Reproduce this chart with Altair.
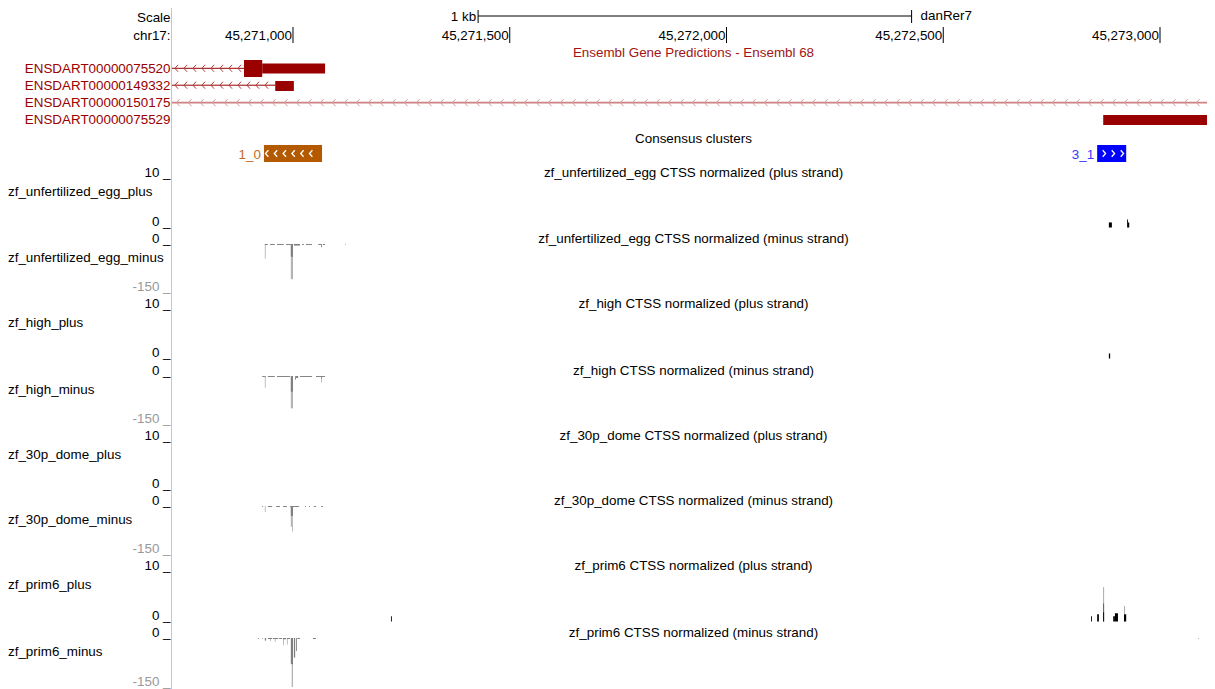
import altair as alt
import pandas as pd

# ---------------- data ----------------
VIEW_START = 45270720.9
VIEW_END = 45273108.4
PX_PER_BP = 0.4335  # only for decorative chevron spacing

RULER_TICKS = [45271000, 45271500, 45272000, 45272500, 45273000]
RULER_LABELS = ["45,271,000", "45,271,500", "45,272,000", "45,272,500", "45,273,000"]
SCALE_BAR = [45271427, 45272427]
SCALE_BAR_LABEL = "1 kb"
ASSEMBLY = "danRer7"
CHROM = "chr17:"

GENE_TRACK_TITLE = "Ensembl Gene Predictions - Ensembl 68"
GENE_NAMES = ["ENSDART00000075520", "ENSDART00000149332", "ENSDART00000150175", "ENSDART00000075529"]
INTRON_START = [45270600, 45270600, 45270600, None]
INTRON_END = [45270887, 45270959, 45273300, None]
EXON_ROW = [0, 0, 1, 3]
EXON_START = [45270887, 45270929, 45270959, 45272869]
EXON_END = [45270929, 45271074, 45271002, 45273300]
EXON_THICK = [True, False, False, False]

CLUSTER_TITLE = "Consensus clusters"
CLUSTER_NAMES = ["1_0", "3_1"]
CLUSTER_START = [45270933, 45272855]
CLUSTER_END = [45271067, 45272922]
CLUSTER_STRAND = ["-", "+"]

SAMPLES = ["zf_unfertilized_egg", "zf_high", "zf_30p_dome", "zf_prim6"]
PLUS_DOMAIN = [0, 10]
MINUS_DOMAIN = [-150, 0]

# bars: (start, end, value)
UE_PLUS_MEAN = [(45272882, 45272889, 1.0), (45272924, 45272926, 1.6), (45272926, 45272929, 1.0)]
UE_MINUS_MEAN = [(45270935, 45270942, -3), (45270947, 45270958, -3), (45270963, 45270979, -3),
                 (45270984, 45270995, -3), (45270995, 45271000, -40), (45271002, 45271016, -5),
                 (45271021, 45271025, -3), (45271030, 45271044, -3), (45271058, 45271065, -3),
                 (45271065, 45271067, -10), (45271069, 45271074, -3), (45271120, 45271122, -2)]
UE_MINUS_MAX = [(45270935, 45270937, -45), (45270995, 45271000, -110)]

HIGH_PLUS_MEAN = [(45272882, 45272885, 1.0)]
HIGH_MINUS_MEAN = [(45270929, 45270935, -3), (45270935, 45270937, -4), (45270942, 45270958, -3),
                   (45270963, 45270993, -3), (45270995, 45271000, -49), (45271005, 45271007, -12),
                   (45271007, 45271012, -6), (45271016, 45271044, -3), (45271053, 45271065, -3),
                   (45271065, 45271067, -8), (45271067, 45271074, -3)]
HIGH_MINUS_MAX = [(45270935, 45270937, -37), (45270995, 45271000, -101), (45271065, 45271067, -20)]

DOME_MINUS_MEAN = [(45270929, 45270931, -3), (45270942, 45270952, -3), (45270961, 45270970, -3),
                   (45270977, 45270986, -3), (45270993, 45270995, -3), (45270995, 45271000, -31),
                   (45271000, 45271014, -3), (45271028, 45271030, -3), (45271037, 45271039, -3),
                   (45271048, 45271053, -3), (45271065, 45271069, -3)]
DOME_MINUS_MAX = [(45270935, 45270937, -19), (45270995, 45270998, -65), (45270998, 45271000, -80)]

PRIM6_PLUS_MEAN = [(45271226, 45271228, 1.0), (45272841, 45272843, 1.0), (45272855, 45272859, 1.4),
                   (45272869, 45272871, 1.8), (45272892, 45272896, 1.0), (45272896, 45272903, 1.6),
                   (45272917, 45272922, 1.4)]
PRIM6_PLUS_SD = [(45272869, 45272871, 3.5)]
PRIM6_PLUS_MAX = [(45272869, 45272871, 6.7), (45272917, 45272919, 3.0)]
PRIM6_MINUS_MEAN = [(45270919, 45270921, -3), (45270929, 45270931, -2), (45270935, 45270938, -8),
                    (45270942, 45270952, -3), (45270954, 45270966, -3), (45270968, 45270975, -3),
                    (45270977, 45270984, -4), (45270986, 45270993, -3),
                    (45270995, 45271000, -80), (45271002, 45271005, -60),
                    (45271007, 45271009, -40), (45271010, 45271016, -3), (45271046, 45271053, -3),
                    (45273088, 45273090, -2)]
PRIM6_MINUS_MAX = [(45270947, 45270949, -10), (45270958, 45270960, -12), (45270977, 45270979, -22),
                   (45270986, 45270988, -20), (45270997, 45271000, -150)]

TRACK_BARS = {
    ("zf_unfertilized_egg", "plus"): [("pmean", UE_PLUS_MEAN)],
    ("zf_unfertilized_egg", "minus"): [("mmax", UE_MINUS_MAX), ("mmean", UE_MINUS_MEAN)],
    ("zf_high", "plus"): [("pmean", HIGH_PLUS_MEAN)],
    ("zf_high", "minus"): [("mmax", HIGH_MINUS_MAX), ("mmean", HIGH_MINUS_MEAN)],
    ("zf_30p_dome", "plus"): [],
    ("zf_30p_dome", "minus"): [("mmax", DOME_MINUS_MAX), ("mmean", DOME_MINUS_MEAN)],
    ("zf_prim6", "plus"): [("pmax", PRIM6_PLUS_MAX), ("psd", PRIM6_PLUS_SD), ("pmean", PRIM6_PLUS_MEAN)],
    ("zf_prim6", "minus"): [("mmax", PRIM6_MINUS_MAX), ("mmean", PRIM6_MINUS_MEAN)],
}

# ---------------- layout / style ----------------
FONT = "Liberation Sans"
FS = 13.4
OFF = 8                      # page margin
TXT = 1                      # text baseline nudge
W, H = 1035, 681
CENTER_X = 521.5
GENE_RED = "#990000"

# page-y rows of each track (reference)
T10 = [172, 303, 435, 565]
Z0 = [221, 352, 483, 615]
M0 = [238, 370, 500, 632]
M150 = [286, 418, 548, 681]

xs = alt.Scale(domain=[VIEW_START, VIEW_END], nice=False, zero=False)


def X(f):
    return alt.X(f, type="quantitative", scale=xs, axis=None)


def label(text, x, y, align="left", color="#000000", size=FS):
    return alt.Chart(pd.DataFrame({"t": [text]})).mark_text(
        align=align, baseline="middle", font=FONT, fontSize=size, color=color
    ).encode(text="t:N", x=alt.value(x), y=alt.value(y - OFF + TXT))


CHEV_L = "M0.45,-1L-0.45,0L0.45,1"
CHEV_R = "M-0.45,-1L0.45,0L-0.45,1"

L = []

# divider line
L.append(alt.Chart(pd.DataFrame({"a": [0]})).mark_rule(color="#efb4b4", strokeWidth=1).encode(
    x=alt.value(-0.5), y=alt.value(0), y2=alt.value(H)))

# scale bar
L.append(label("Scale", -1.5, 17, align="right"))
sb = pd.DataFrame({"s": [SCALE_BAR[0]], "e": [SCALE_BAR[1]]})
L.append(alt.Chart(sb).mark_rule(color="#000", strokeWidth=1).encode(x=X("s"), x2="e", y=alt.value(16 - OFF)))
sbe = pd.DataFrame({"pos": SCALE_BAR})
L.append(alt.Chart(sbe).mark_rule(color="#000", strokeWidth=1).encode(
    x=X("pos"), y=alt.value(10 - OFF), y2=alt.value(23 - OFF)))
L.append(alt.Chart(pd.DataFrame({"pos": [SCALE_BAR[0]], "t": [SCALE_BAR_LABEL]})).mark_text(
    align="right", baseline="middle", dx=-2, font=FONT, fontSize=FS, color="#000").encode(
    x=X("pos"), y=alt.value(16 - OFF + TXT), text="t:N"))
L.append(alt.Chart(pd.DataFrame({"pos": [SCALE_BAR[1]], "t": [ASSEMBLY]})).mark_text(
    align="left", baseline="middle", dx=9, font=FONT, fontSize=FS, color="#000").encode(
    x=X("pos"), y=alt.value(15 - OFF + TXT), text="t:N"))

# ruler
L.append(label(CHROM, -1.5, 35, align="right"))
rd = pd.DataFrame({"pos": RULER_TICKS, "lab": RULER_LABELS})
L.append(alt.Chart(rd).mark_rule(color="#000", strokeWidth=1).encode(
    x=X("pos"), y=alt.value(27 - OFF), y2=alt.value(43 - OFF)))
L.append(alt.Chart(rd).mark_text(align="right", baseline="middle", dx=-1, font=FONT, fontSize=FS,
                                 color="#000").encode(x=X("pos"), y=alt.value(35 - OFF + TXT), text="lab:N"))

# gene track
L.append(label(GENE_TRACK_TITLE, CENTER_X, 52, align="center", color="#a01414"))
ROW_LINE_Y = [68.3, 85.2, 102.7, 120]
ROW_CENTER = [68.5, 86, 102.5, 120]
ROW_LABEL_Y = [68, 85, 102, 119]
CHEV_STEP = [9, 9, 12, 9]
LINE_COLOR = [GENE_RED, GENE_RED, "#cf8080", GENE_RED]
CHEV_COLOR = ["#b53a3a", "#b53a3a", "#d89a9a", "#b53a3a"]
for i, name in enumerate(GENE_NAMES):
    L.append(label(name, -1.5, ROW_LABEL_Y[i], align="right", color=GENE_RED))
    if INTRON_START[i] is not None:
        ldf = pd.DataFrame({"s": [INTRON_START[i]], "e": [INTRON_END[i]]})
        L.append(alt.Chart(ldf).mark_rule(color=LINE_COLOR[i], strokeWidth=1.8 if i == 2 else 1,
                                          clip=True).encode(
            x=X("s"), x2="e", y=alt.value(ROW_LINE_Y[i] - OFF)))
        a = max(INTRON_START[i], VIEW_START)
        b = min(INTRON_END[i], VIEW_END)
        step = CHEV_STEP[i] / PX_PER_BP
        n = int((b - a) / step)
        cdf = pd.DataFrame({"pos": [a + step * (k + 0.5) for k in range(n)]})
        L.append(alt.Chart(cdf).mark_point(shape=CHEV_L, filled=False, size=49, strokeWidth=1,
                                           color=CHEV_COLOR[i], opacity=1, clip=True).encode(
            x=X("pos"), y=alt.value(ROW_LINE_Y[i] - OFF)))
for j in range(len(EXON_START)):
    r = EXON_ROW[j]
    hh = 8.5 if EXON_THICK[j] else 5
    edf = pd.DataFrame({"s": [EXON_START[j]], "e": [EXON_END[j]]})
    L.append(alt.Chart(edf).mark_rect(color=GENE_RED, clip=True).encode(
        x=X("s"), x2="e", y=alt.value(ROW_CENTER[r] - hh - OFF), y2=alt.value(ROW_CENTER[r] + hh - OFF)))

# consensus clusters
L.append(label(CLUSTER_TITLE, CENTER_X, 138, align="center"))
CL_COLOR = ["#b35900", "#0000ff"]
CL_TEXT = ["#c26a1f", "#3a3aff"]
CL_CHEV_N = [6, 3]
CL_CHEV_STEP = [8.8, 9]
CL_CHEV_OFF = [3, 7]
for i, nm in enumerate(CLUSTER_NAMES):
    cdf = pd.DataFrame({"s": [CLUSTER_START[i]], "e": [CLUSTER_END[i]], "t": [nm]})
    L.append(alt.Chart(cdf).mark_rect(color=CL_COLOR[i], clip=True).encode(
        x=X("s"), x2="e", y=alt.value(145 - OFF), y2=alt.value(162 - OFF)))
    L.append(alt.Chart(cdf).mark_text(align="right", baseline="middle", dx=-3, font=FONT,
                                      fontSize=FS, color=CL_TEXT[i]).encode(
        x=X("s"), y=alt.value(154 - OFF + TXT), text="t:N"))
    pos = [CLUSTER_START[i] + (CL_CHEV_OFF[i] + CL_CHEV_STEP[i] * k) / PX_PER_BP for k in range(CL_CHEV_N[i])]
    L.append(alt.Chart(pd.DataFrame({"pos": pos})).mark_point(
        shape=CHEV_L if CLUSTER_STRAND[i] == "-" else CHEV_R, filled=False, size=42,
        strokeWidth=1.3, color="#ffffff", opacity=1).encode(x=X("pos"), y=alt.value(153.5 - OFF)))

# signal tracks
KIND_DOMAIN = ["pmax", "psd", "pmean", "mmax", "mmean"]
KIND_RANGE = ["#a0a0a0", "#555555", "#000000", "#b4b4b4", "#808080"]
kind_scale = alt.Scale(domain=KIND_DOMAIN, range=KIND_RANGE)


def track(bars, domain, top, bottom):
    rows = []
    for kind, lst in bars:
        for s, e, v in lst:
            rows.append({"start": s, "end": e, "value": v, "kind": kind})
    df = pd.DataFrame(rows)
    return alt.Chart(df).mark_rect(clip=True).encode(
        x=X("start"), x2="end",
        y=alt.Y("value:Q", scale=alt.Scale(domain=domain, range=[bottom - OFF, top - OFF],
                                           nice=False, zero=False), axis=None),
        y2=alt.datum(0),
        color=alt.Color("kind:N", scale=kind_scale, legend=None),
    )


for k, smp in enumerate(SAMPLES):
    # plus strand
    L.append(label(f"{smp} CTSS normalized (plus strand)", CENTER_X, T10[k], align="center"))
    L.append(label("10 _", -1.5, T10[k], align="right"))
    L.append(label("0 _", -1.5, Z0[k], align="right"))
    L.append(label(f"{smp}_plus", -164, T10[k] + 19))
    bars = TRACK_BARS[(smp, "plus")]
    if bars:
        L.append(track(bars, PLUS_DOMAIN, T10[k] + 5, Z0[k] + 6.5))
    # minus strand
    L.append(label(f"{smp} CTSS normalized (minus strand)", CENTER_X, M0[k], align="center"))
    L.append(label("0 _", -1.5, M0[k], align="right"))
    L.append(label("-150 _", -1.5, M150[k], align="right", color="#999999"))
    L.append(label(f"{smp}_minus", -164, M0[k] + 19))
    bars = TRACK_BARS[(smp, "minus")]
    if bars:
        L.append(track(bars, MINUS_DOMAIN, M0[k] + 6, M150[k] + 6))

chart = alt.layer(*L).properties(
    width=W, height=H,
    padding={"left": 164, "right": 0, "top": 0, "bottom": 0},
    autosize=alt.AutoSizeParams(type="none"),
).resolve_scale(y="independent").configure_view(strokeWidth=0)

chart.save("out.html", embed_options={"renderer": "svg", "actions": False})
